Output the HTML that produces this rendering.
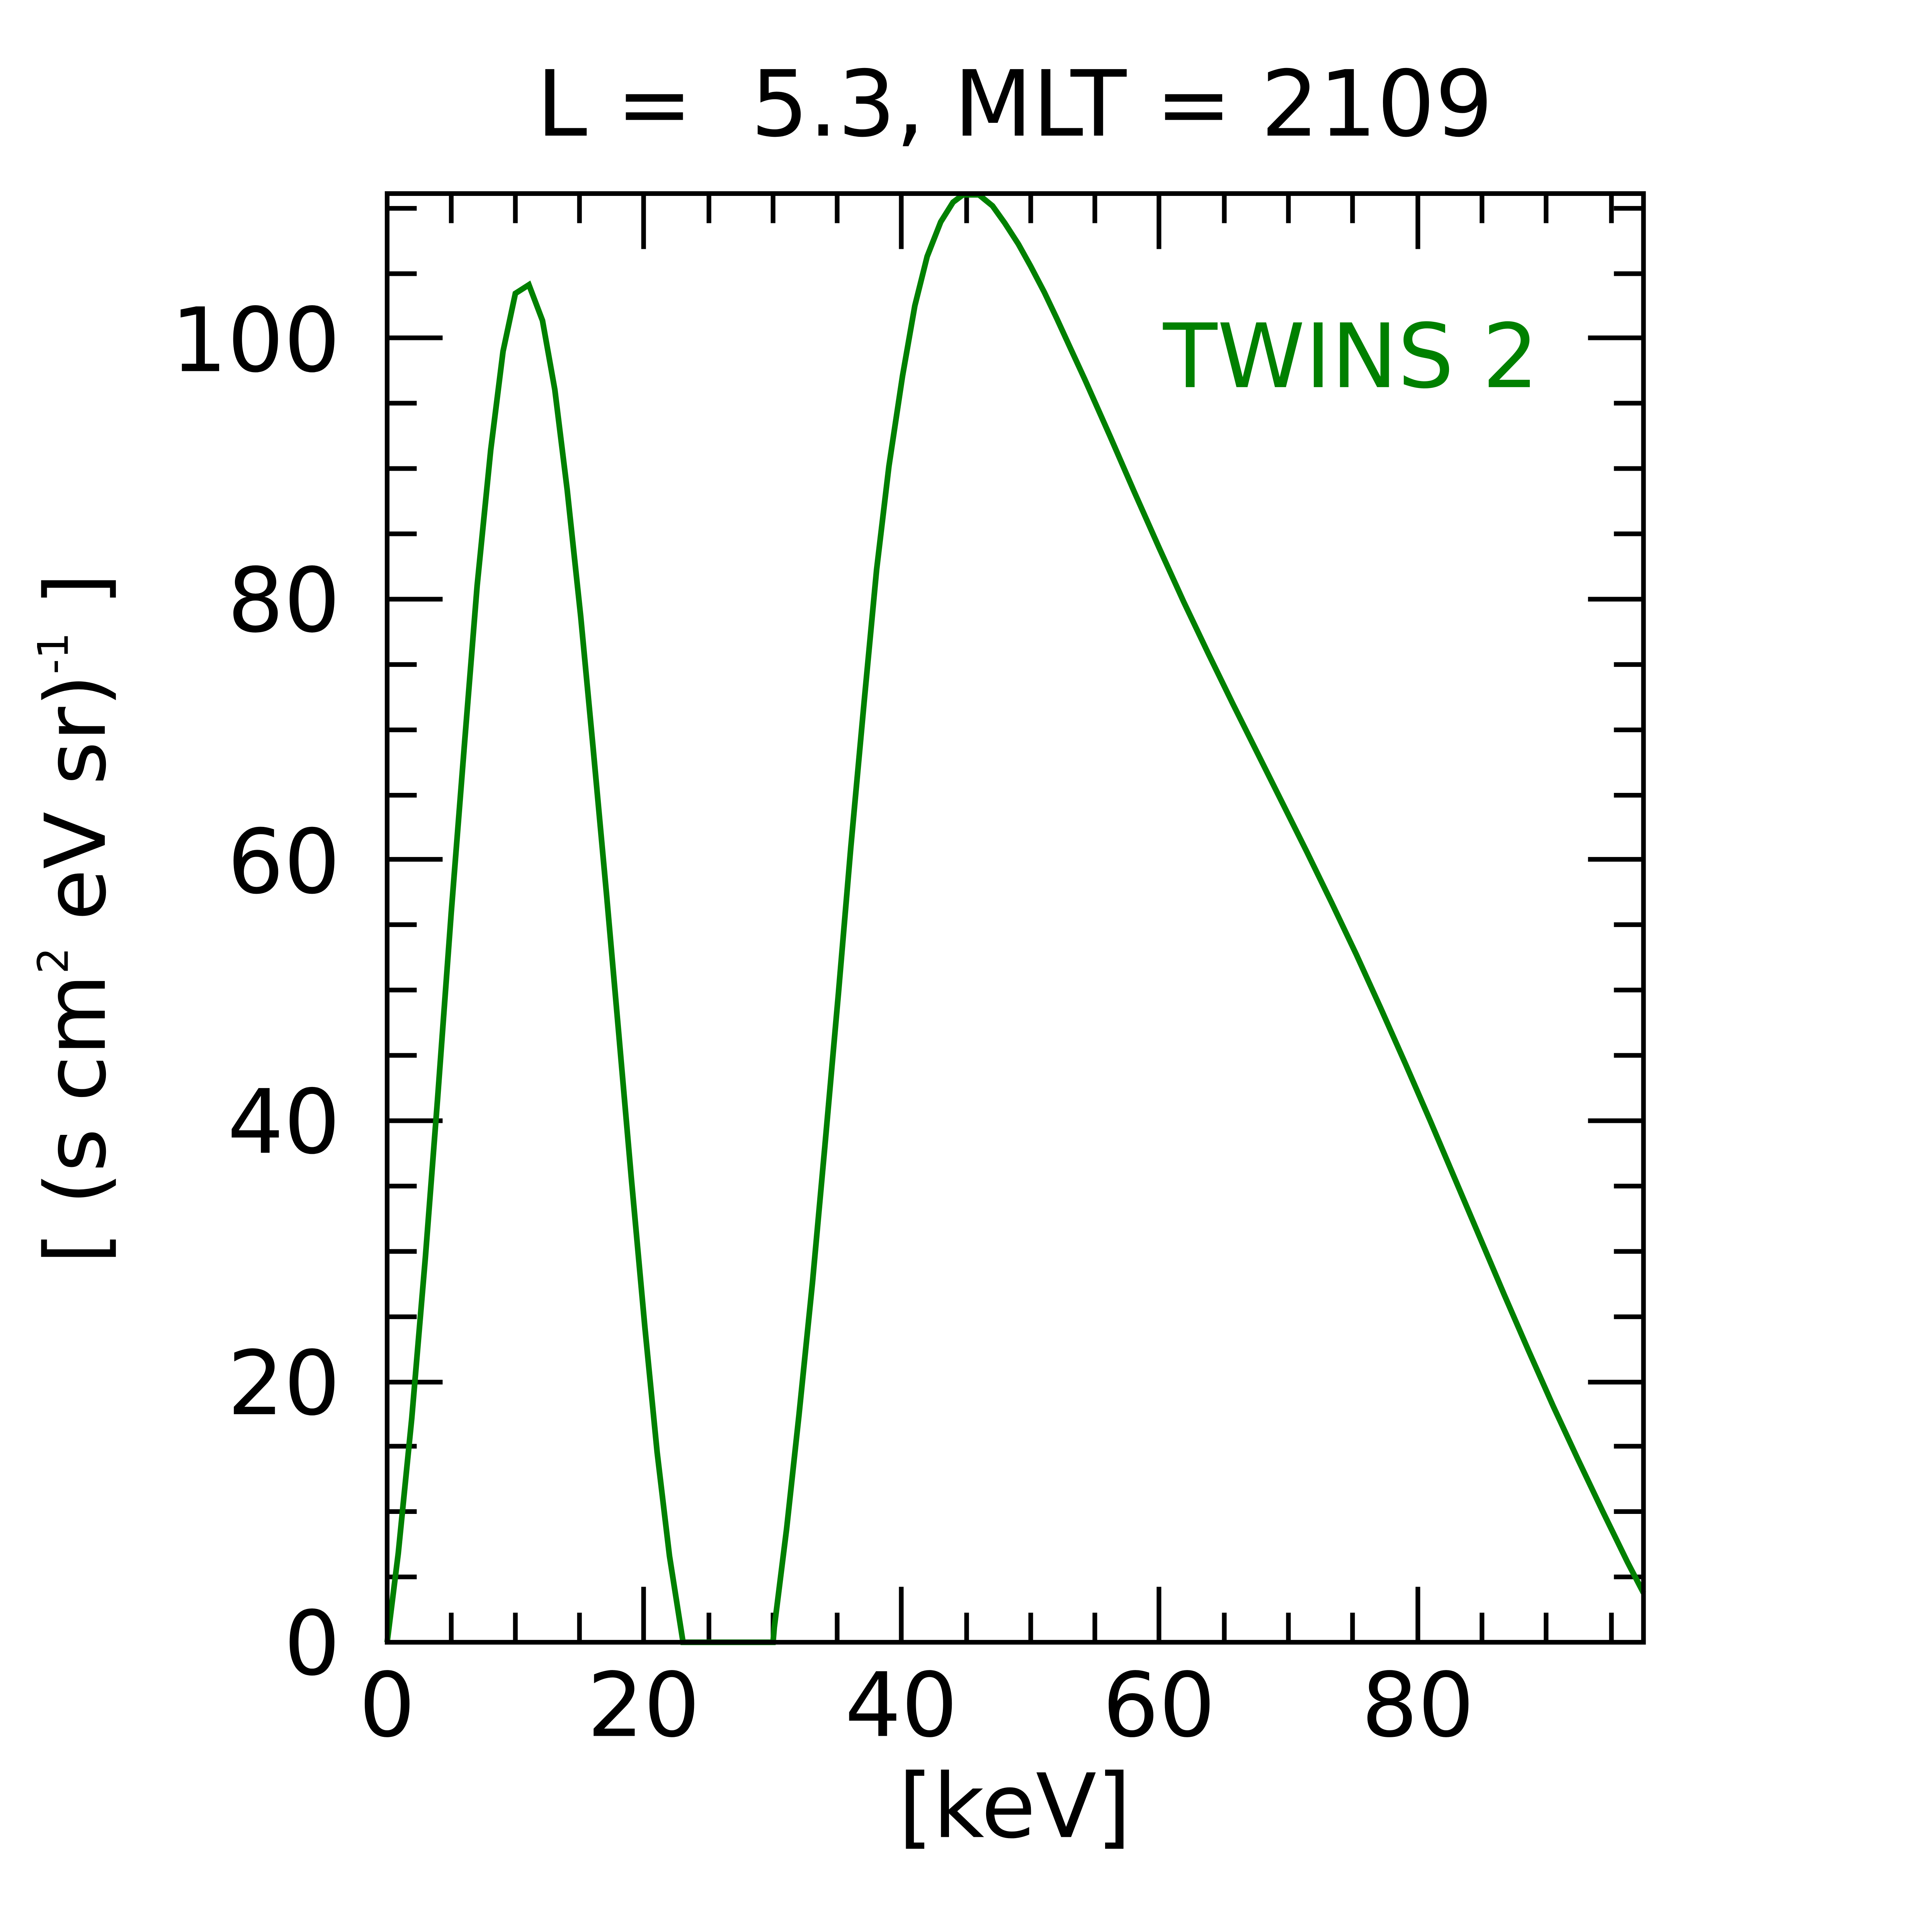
<!DOCTYPE html>
<html><head><meta charset="utf-8"><style>html,body{margin:0;padding:0;background:#fff;overflow:hidden;width:100%;height:100%}svg{display:block;width:100vw;height:100vh}</style></head>
<body>
<svg xmlns="http://www.w3.org/2000/svg" viewBox="0 0 1567 1567" preserveAspectRatio="none">
<rect width="1567" height="1567" fill="#fff"/>
<g font-family="DejaVu Sans, Liberation Sans, sans-serif" fill="#000">
<text x="823" y="110" font-size="74" text-anchor="middle">L =&#160; 5.3, MLT = 2109</text>
<g font-size="72" text-anchor="middle">
<text x="314" y="1408">0</text><text x="522" y="1408">20</text><text x="731" y="1408">40</text><text x="940" y="1408">60</text><text x="1150" y="1408">80</text>
<text x="823" y="1490">[keV]</text>
</g>
<g font-size="72" text-anchor="end">
<text x="276" y="1358">0</text><text x="276" y="1147">20</text><text x="276" y="935">40</text><text x="276" y="724">60</text><text x="276" y="512">80</text><text x="276" y="301">100</text>
</g>
<text transform="translate(85,745) rotate(-90)" font-size="68" text-anchor="middle">[ (s cm<tspan font-size="34" dy="-30">2</tspan><tspan dy="30"> eV sr)</tspan><tspan font-size="34" dy="-30">-1</tspan><tspan dy="30"> ]</tspan></text>
<text x="1248" y="314" font-size="72" text-anchor="end" fill="#008000">TWINS 2</text>
</g>
<g stroke="#000" stroke-width="3.8" fill="none">
<path d="M366 157v24M418 157v24M470 157v24M575 157v24M627 157v24M679 157v24M784 157v24M836 157v24M888 157v24M993 157v24M1045 157v24M1097 157v24M1202 157v24M1254 157v24M1307 157v24M522 157v45M731 157v45M940 157v45M1150 157v45
M366 1332v-24M418 1332v-24M470 1332v-24M575 1332v-24M627 1332v-24M679 1332v-24M784 1332v-24M836 1332v-24M888 1332v-24M993 1332v-24M1045 1332v-24M1097 1332v-24M1202 1332v-24M1254 1332v-24M1307 1332v-24M522 1332v-45M731 1332v-45M940 1332v-45M1150 1332v-45
M314 1279h24M314 1226h24M314 1173h24M314 1068h24M314 1015h24M314 962h24M314 856h24M314 803h24M314 750h24M314 645h24M314 592h24M314 539h24M314 433h24M314 380h24M314 327h24M314 222h24M314 169h24M314 1121h45M314 909h45M314 697h45M314 486h45M314 274h45
M1333 1279h-24M1333 1226h-24M1333 1173h-24M1333 1068h-24M1333 1015h-24M1333 962h-24M1333 856h-24M1333 803h-24M1333 750h-24M1333 645h-24M1333 592h-24M1333 539h-24M1333 433h-24M1333 380h-24M1333 327h-24M1333 222h-24M1333 169h-24M1333 1121h-45M1333 909h-45M1333 697h-45M1333 486h-45M1333 274h-45"/>
</g>
<polyline fill="none" stroke="#008000" stroke-width="4.6" points="314,1332 323,1260 334,1150 345,1020 355,890 366,740 377,600 387,475 398,365 408,285 418,238 429,231 440,260 450,316 460,397 471,500 481,606 492,726 502,840 512,955 523,1076 533,1178 543,1262 554,1332 627,1332 628,1320 638,1240 648,1148 659,1040 669,930 680,806 690,688 701,568 711,462 721,378 732,305 742,248 752,208 763,180 773,164 781,158 794,158 805,167 815,181 826,198 836,216 847,237 857,258 868,282 880,308 900,353 920,399 940,444 960,488 980,530 1000,571 1020,611 1040,651 1060,691 1080,732 1100,774 1120,818 1140,863 1160,909 1180,956 1200,1003 1220,1050 1240,1096 1260,1141 1280,1184 1300,1226 1320,1267 1333,1292"/>
<rect x="314" y="157" width="1019" height="1175" fill="none" stroke="#000" stroke-width="3.8"/>
</svg>
</body></html>
